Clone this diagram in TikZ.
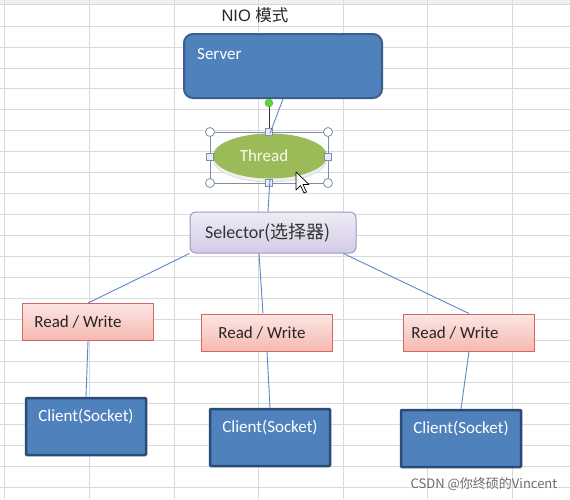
\documentclass[tikz,border=0pt]{standalone}
\usepackage{fontspec}
\setmainfont{Carlito}
\newfontfamily\cjk{Noto Sans CJK SC}
\newfontfamily\arialf{Liberation Sans}
\usetikzlibrary{calc,shapes.geometric}
\definecolor{gridc}{HTML}{D6D9DE}
\definecolor{boxblue}{HTML}{4F81BD}
\definecolor{srvborder}{HTML}{3A5F8F}
\definecolor{cliborder}{HTML}{2A4B74}
\definecolor{linkc}{HTML}{5F86C6}
\definecolor{thrgreen}{HTML}{9BBB59}
\definecolor{handlec}{HTML}{7F8FA6}
\definecolor{seltop}{HTML}{EFECF6}
\definecolor{selbot}{HTML}{D3CBE6}
\definecolor{selborder}{HTML}{A396C4}
\definecolor{rwtop}{HTML}{FCE6E3}
\definecolor{rwbot}{HTML}{F5B9B1}
\definecolor{rwborder}{HTML}{D4675F}
\tikzset{
  grid/.style={draw=gridc, line width=0.8pt},
  lbl/.style={font=\fontsize{17}{20}\selectfont},
  serverbox/.style={draw=srvborder, line width=2pt, fill=boxblue, rounded corners=9pt, minimum width=198pt, minimum height=64pt},
  clientbox/.style={draw=cliborder, line width=2.5pt, fill=boxblue, minimum width=120pt, minimum height=57pt, lbl, text=white, rounded corners=1pt},
  rwbox/.style={draw=rwborder, line width=0.9pt, top color=rwtop, bottom color=rwbot, minimum width=131pt, minimum height=37pt, lbl, text=black!85},
  selbox/.style={draw=selborder, line width=1pt, top color=seltop, bottom color=selbot, rounded corners=6pt, minimum width=166pt, minimum height=41pt, font=\fontsize{18}{21}\selectfont, text=black!80},
  link/.style={draw=linkc, line width=0.9pt},
  handleround/.style={draw=handlec, fill=white, line width=0.8pt},
  handlesq/.style={draw=handlec, fill=blue!8, line width=0.8pt},
}
\begin{document}
\begin{tikzpicture}[x=1pt,y=-1pt]
\useasboundingbox (0,0) rectangle (570,499);
\fill[white] (0,0) rectangle (570,499);
% spreadsheet grid
\fill[gray!12] (0,0) rectangle (570,4);
\foreach \k in {0,...,22} \draw[grid] (0,26+20.95*\k) -- (570,26+20.95*\k);
\draw[grid] (0,4) -- (570,4);
\foreach \x in {4,89,174,258,343,427,512} \draw[grid] (\x,0) -- (\x,499);

% title
\node[text=black!85] (title) at (255,15) {\fontsize{16.5}{18}\selectfont\arialf NIO \cjk 模式};

% server
\node[serverbox, label={[anchor=west, text=white, xshift=14pt, yshift=-21pt, inner sep=0pt, lbl]north west:Server}] (server) at (283,66) {};

% thread ellipse with bevel
\fill[gray!12, draw=gray!35, line width=0.5pt] (270,159) ellipse [x radius=57, y radius=23];
\node[ellipse, fill=thrgreen, minimum width=114pt, minimum height=45pt, inner sep=0pt, lbl, text=white!92!thrgreen] (thread) at (270,156) {Thread\kern12pt};

% selection frame and handles
\draw[handlec, line width=0.8pt] (210,132) rectangle (328,183);
\draw[gray!40!black, line width=0.8pt] (269,103) -- (269,132);
\foreach \px/\py in {210/132,328/132,210/183,328/183} \draw[handleround] (\px,\py) circle (4.5);
\foreach \px/\py in {269/132,210/157,328/157,269/183} \draw[handlesq] (\px-3.5,\py-3.5) rectangle (\px+3.5,\py+3.5);
\draw[fill=green!60!olive!80, draw=green!40!black!60] (269,103) circle (4);

% selector
\node[selbox] (selector) at (273,232.5) {Selector{\cjk (选择器)}\kern10pt};

% read / write
\node[rwbox] (rw1) at (88,322) {Read / Write\kern20pt};
\node[rwbox] (rw2) at (267,332.5) {Read / Write\kern10pt};
\node[rwbox] (rw3) at (469,332.5) {Read / Write\kern28pt};

% clients
\node[clientbox] (c1) at (86,426.5) {\raisebox{10pt}[\height][\depth]{Client(Socket)}};
\node[clientbox] (c2) at (270,437.5) {\raisebox{10pt}[\height][\depth]{Client(Socket)}};
\node[clientbox] (c3) at (461,438.5) {\raisebox{10pt}[\height][\depth]{Client(Socket)}};

% connectors
\draw[link] (server.south) -- (thread.north);
\draw[link] (thread.south) -- ($(selector.north)+(-5,0)$);
\draw[link] (selector.south west) -- (rw1.north);
\draw[link] ($(selector.south)+(-14,0)$) -- ($(rw2.north)+(-4,0)$);
\draw[link] ($(selector.south east)+(-13,0)$) -- (rw3.north);
\draw[link] (rw1.south) -- (c1.north);
\draw[link] (rw2.south) -- (c2.north);
\draw[link] (rw3.south) -- (c3.north);

% mouse pointer
\draw[fill=white, draw=black, line width=0.7pt, line join=round]
  (296,172) -- (296,190) -- (300.5,185.5) -- (304,193) -- (306.5,192) -- (303,184.5) -- (309,184.5) -- cycle;

% watermark
\node[text=gray!85!black] (wm) at (484,484) {\fontsize{13}{15}\selectfont\cjk CSDN @你终硕的Vincent};
\end{tikzpicture}
\end{document}
